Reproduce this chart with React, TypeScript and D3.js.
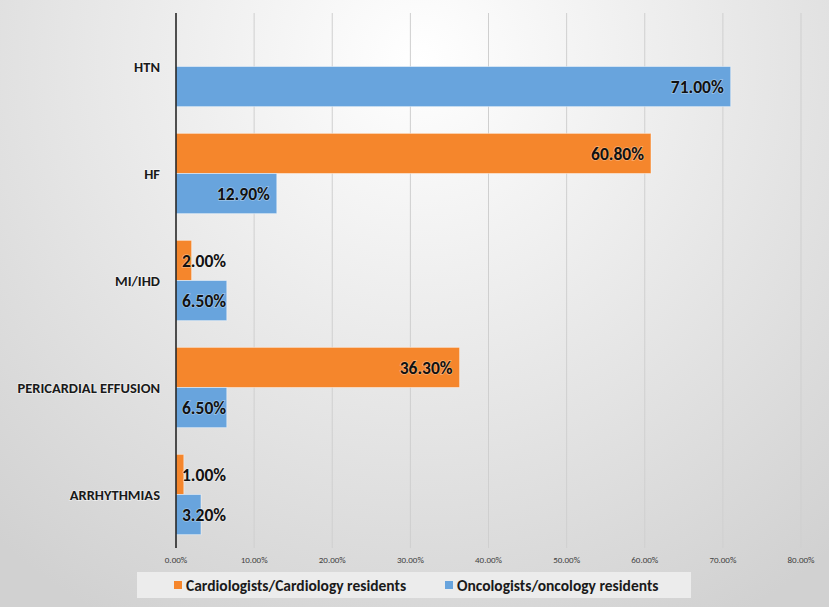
import React, { useEffect, useRef } from "react";
import * as d3 from "d3";

const categories = ["HTN", "HF", "MI/IHD", "PERICARDIAL EFFUSION", "ARRHYTHMIAS"];
const cardiologyValues = [0, 60.8, 2.0, 36.3, 1.0];
const oncologyValues = [71.0, 12.9, 6.5, 6.5, 3.2];
const seriesNames = ["Cardiologists/Cardiology residents", "Oncologists/oncology residents"];
const tickValues = [0, 10, 20, 30, 40, 50, 60, 70, 80];

const WIDTH = 829;
const HEIGHT = 607;
const FONT = "Carlito, Calibri, Lato, sans-serif";

const App: React.FC = () => {
  const ref = useRef<SVGSVGElement>(null);

  useEffect(() => {
    document.body.style.margin = "0";
    if (!ref.current) return;
    const svg = d3.select(ref.current);
    svg.selectAll("*").remove();

    const colors = ["#f5862c", "#68a4dd"];

    const defs = svg.append("defs");
    const grad = defs
      .append("radialGradient")
      .attr("id", "bg")
      .attr("gradientUnits", "userSpaceOnUse")
      .attr("cx", 420)
      .attr("cy", 60)
      .attr("r", 640);
    grad.append("stop").attr("offset", "0%").attr("stop-color", "#ffffff");
    grad.append("stop").attr("offset", "100%").attr("stop-color", "#d1d1d1");

    svg.append("rect").attr("width", WIDTH).attr("height", HEIGHT).attr("fill", "url(#bg)");

    const x = d3.scaleLinear().domain([0, 80]).range([176, 801]);
    const y = d3
      .scaleBand<string>()
      .domain(categories)
      .range([13, 548])
      .paddingInner(0.25)
      .paddingOuter(0.125);
    const sub = d3.scaleBand<number>().domain([0, 1]).range([0, y.bandwidth()]);

    // gridlines
    svg
      .append("g")
      .selectAll("line")
      .data(tickValues.slice(1))
      .enter()
      .append("line")
      .attr("x1", (d) => x(d))
      .attr("x2", (d) => x(d))
      .attr("y1", 13)
      .attr("y2", 548)
      .attr("stroke", "#cfcfcf")
      .attr("stroke-width", 1);

    // tick labels
    svg
      .append("g")
      .selectAll("text")
      .data(tickValues)
      .enter()
      .append("text")
      .attr("x", (d) => x(d))
      .attr("y", 563)
      .attr("text-anchor", "middle")
      .attr("font-family", FONT)
      .attr("font-size", 9)
      .attr("fill", "#404040")
      .text((d) => d3.format(".2f")(d) + "%");

    const series = [cardiologyValues, oncologyValues];

    // bars
    series.forEach((values, si) => {
      svg
        .append("g")
        .selectAll("rect")
        .data(categories.map((c, i) => ({ c, v: values[i] })).filter((d) => d.v > 0))
        .enter()
        .append("rect")
        .attr("x", x(0))
        .attr("y", (d) => (y(d.c) as number) + (sub(si) as number))
        .attr("width", (d) => x(d.v) - x(0))
        .attr("height", sub.bandwidth())
        .attr("fill", colors[si])
        .attr("stroke", "rgba(255,255,255,0.45)")
        .attr("stroke-width", 1);
    });

    // data labels
    series.forEach((values, si) => {
      categories.forEach((c, i) => {
        const v = values[i];
        if (!(v > 0)) return;
        const t = svg
          .append("text")
          .attr("y", (y(c) as number) + (sub(si) as number) + sub.bandwidth() / 2)
          .attr("dy", "0.36em")
          .attr("font-family", FONT)
          .attr("font-weight", "bold")
          .attr("font-size", 17.5)
          .attr("fill", "#111")
          .attr("stroke", "rgba(255,255,255,0.35)")
          .attr("stroke-width", 1.5)
          .attr("paint-order", "stroke")
          .text(d3.format(".2f")(v) + "%");
        const w = (t.node() as SVGTextElement).getComputedTextLength();
        const left = Math.max(x(0) + 6, x(v) - 7 - w);
        t.attr("x", left);
      });
    });

    // y axis line
    svg
      .append("line")
      .attr("x1", x(0))
      .attr("x2", x(0))
      .attr("y1", 13)
      .attr("y2", 548)
      .attr("stroke", "#1a1a1a")
      .attr("stroke-width", 1.5);

    // category labels
    svg
      .append("g")
      .selectAll("text")
      .data(categories)
      .enter()
      .append("text")
      .attr("x", 160)
      .attr("y", (d) => (y(d) as number) + y.bandwidth() / 2)
      .attr("dy", "0.36em")
      .attr("text-anchor", "end")
      .attr("font-family", FONT)
      .attr("font-weight", "bold")
      .attr("font-size", 14.5)
      .attr("fill", "#1a1a1a")
      .attr("stroke", "rgba(255,255,255,0.5)")
      .attr("stroke-width", 1.5)
      .attr("paint-order", "stroke")
      .text((d) => d);

    // legend
    const legend = svg.append("g");
    legend
      .append("rect")
      .attr("x", 137)
      .attr("y", 572)
      .attr("width", 554)
      .attr("height", 26)
      .attr("fill", "#ececec");
    const legendX = [174, 445];
    seriesNames.forEach((name, i) => {
      legend
        .append("rect")
        .attr("x", legendX[i])
        .attr("y", 581)
        .attr("width", 8)
        .attr("height", 8)
        .attr("fill", colors[i]);
      legend
        .append("text")
        .attr("x", legendX[i] + 12)
        .attr("y", 585)
        .attr("dy", "0.36em")
        .attr("font-family", FONT)
        .attr("font-weight", "bold")
        .attr("font-size", 15.5)
        .attr("fill", "#1a1a1a")
        .text(name);
    });
  }, []);

  return <svg ref={ref} width={WIDTH} height={HEIGHT} style={{ display: "block" }} />;
};

export default App;
